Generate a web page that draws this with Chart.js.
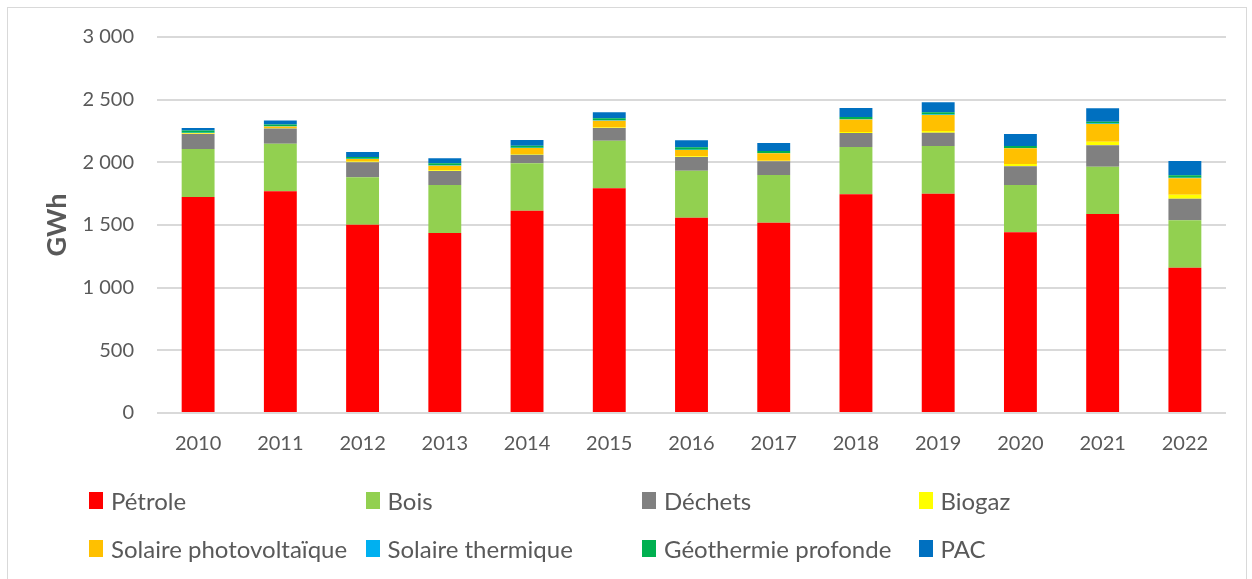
<!DOCTYPE html>
<html>
<head>
<meta charset="utf-8">
<script src="https://cdn.jsdelivr.net/npm/chart.js"></script>
<style>
    body { margin: 0; background: #fff; font-family: Lato, sans-serif; }
    #wrap { position: relative; width: 1252px; height: 579px; overflow: hidden; }
    #frame { position: absolute; left: 7px; top: 7px; width: 1238px; height: 600px; border: 1px solid #d9d9d9; pointer-events: none; }
    #legend { position: absolute; left: 89px; top: 488px; display: grid; grid-template-columns: repeat(4, 276.5px); row-gap: 24px; }
    .item { display: flex; align-items: center; height: 24px; font-size: 24px; color: #595959; white-space: nowrap; }
    .box { width: 14px; height: 17px; margin-right: 8px; flex: none; }
</style>
</head>
<body>
<div id="wrap">
    <canvas id="energyChart" width="1252" height="579"></canvas>
    <div id="frame"></div>
    <div id="legend"></div>
</div>
<script>
    // Values (GWh)
    const years = ['2010', '2011', '2012', '2013', '2014', '2015', '2016', '2017', '2018', '2019', '2020', '2021', '2022'];
    const petrole    = [1723, 1769, 1502, 1436, 1614, 1793, 1558, 1518, 1745, 1750, 1442, 1588, 1159];
    const bois       = [383, 380, 379, 383, 378, 380, 375, 381, 377, 380, 377, 377, 379];
    const dechets    = [120, 121, 119, 112, 69, 101, 110, 109, 112, 106, 149, 171, 172];
    const biogaz     = [4, 4, 6, 5, 5, 4, 5, 5, 8, 14, 19, 29, 32];
    const solairePV  = [4, 12, 20, 37, 48, 54, 50, 59, 100, 128, 125, 141, 131];
    const solaireTh  = [3, 3, 3, 3, 3, 3, 3, 3, 3, 3, 3, 3, 3];
    const geothermie = [16, 13, 13, 16, 16, 17, 19, 15, 16, 18, 15, 15, 21];
    const pac        = [21, 32, 40, 40, 45, 48, 56, 64, 72, 80, 96, 107, 114];

    const series = [
        { label: 'Pétrole', data: petrole, color: '#ff0000' },
        { label: 'Bois', data: bois, color: '#92d050' },
        { label: 'Déchets', data: dechets, color: '#808080' },
        { label: 'Biogaz', data: biogaz, color: '#ffff00' },
        { label: 'Solaire photovoltaïque', data: solairePV, color: '#ffc000' },
        { label: 'Solaire thermique', data: solaireTh, color: '#00b0f0' },
        { label: 'Géothermie profonde', data: geothermie, color: '#00b050' },
        { label: 'PAC', data: pac, color: '#0070c0' }
    ];

    const fmt = v => String(v).replace(/\B(?=(\d{3})+(?!\d))/g, ' ');

    const ctx = document.getElementById('energyChart').getContext('2d');
    new Chart(ctx, {
        type: 'bar',
        data: {
            labels: years,
            datasets: series.map(s => ({
                label: s.label,
                data: s.data,
                backgroundColor: s.color,
                borderWidth: 0,
                barPercentage: 0.4,
                categoryPercentage: 1
            }))
        },
        options: {
            responsive: false,
            animation: false,
            layout: { padding: { left: 0, top: 37, right: 26, bottom: 0 } },
            plugins: {
                legend: { display: false },
                tooltip: { enabled: false }
            },
            scales: {
                x: {
                    stacked: true,
                    grid: { display: false, drawTicks: false },
                    border: { display: false },
                    ticks: { color: '#595959', font: { family: 'Lato', size: 20 }, padding: 19, maxRotation: 0 },
                    afterFit: scale => { scale.height = 166; }
                },
                y: {
                    stacked: true,
                    min: 0,
                    max: 3000,
                    grid: { color: '#d9d9d9', lineWidth: 2, drawTicks: false },
                    border: { display: false },
                    ticks: {
                        stepSize: 500,
                        color: '#595959',
                        font: { family: 'Lato', size: 20 },
                        padding: 23,
                        callback: v => fmt(v)
                    },
                    title: {
                        display: true,
                        text: 'GWh',
                        color: '#595959',
                        font: { family: 'Lato', size: 27, weight: 'bold' },
                        padding: { top: 41, bottom: 0 }
                    },
                    afterFit: scale => { scale.width = 157; }
                }
            }
        }
    });

    // Legend laid out in a 4 x 2 grid like the original
    const legend = document.getElementById('legend');
    series.forEach(s => {
        const item = document.createElement('div');
        item.className = 'item';
        const box = document.createElement('span');
        box.className = 'box';
        box.style.background = s.color;
        item.appendChild(box);
        item.appendChild(document.createTextNode(s.label));
        legend.appendChild(item);
    });
</script>
</body>
</html>
